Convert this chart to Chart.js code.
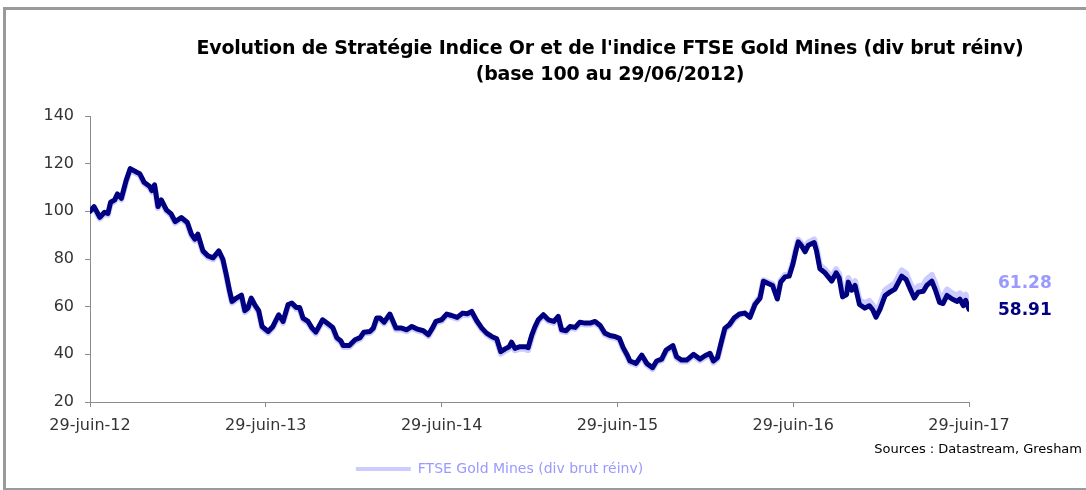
<!DOCTYPE html>
<html>
<head>
  <meta charset="utf-8">
  <title>Evolution de Stratégie Indice Or et de l'indice FTSE Gold Mines</title>
  <script src="https://cdn.jsdelivr.net/npm/chart.js"></script>
  <style>
    body { margin: 0; background: #fff; font-family: "DejaVu Sans", sans-serif; }
    #wrap { position: relative; width: 1086px; height: 490px; overflow: hidden; }
    #frame { position: absolute; left: 3px; top: 7px; width: 1090px; height: 478px;
             border: 3px solid #9a9a9a; border-right: none; }
    #chart { position: absolute; left: 0; top: 0; }
    #title { position: absolute; left: 160px; width: 900px; top: 34px; text-align: center;
             font-weight: bold; font-size: 19px; line-height: 26px; color: #000; letter-spacing: -0.2px; }
    #sources { position: absolute; right: 4px; top: 441px; font-size: 13px; color: #000; }
    .endval { position: absolute; left: 998px; font-weight: bold; font-size: 17px; }
  </style>
</head>
<body>
<div id="wrap">
  <div id="frame"></div>
  <canvas id="chart" width="1086" height="490"></canvas>
  <div id="title">Evolution de Stratégie Indice Or et de l'indice FTSE Gold Mines (div brut réinv)<br>(base 100 au 29/06/2012)</div>
  <div id="sources">Sources : Datastream, Gresham</div>
  <div id="lastFtse" class="endval" style="top:272px;color:#9999ff"></div>
  <div id="lastStrat" class="endval" style="top:299px;color:#000080"></div>
</div>
<script>
  // semaines depuis le 29/06/2012
  const weeks = [0,1.2,2.9,4.3,5.3,6.1,7.3,8.1,9.3,10.7,11.9,13.7,14.7,16,17.7,18.3,19.1,20.1,21.1,22.6,
    24,25.2,27,28.8,30,31,31.9,33.4,34.9,36.4,38.1,39.3,40.3,41.3,42,43.3,44.8,45.8,46.7,47.7,
    48.7,49.9,50.9,52.7,54.1,55.8,57.1,58.6,59.7,61,62,63,64.5,65.7,
    66.8,68.8,70.5,71.8,73,74.2,74.9,76.7,78.4,79.9,81,82.8,83.8,84.8,85.8,87,88.7,90.5,92.2,93.7,
    95.2,96.6,98.6,100.1,101.4,102.3,104,105.5,107,108.6,110.2,111.6,112.9,114.4,115.9,117.3,118.8,120.3,121.5,122.8,
    124,124.7,125.7,127.2,128.7,129.6,130.7,
    131.6,132.6,134.1,135.6,137.2,138.5,139.5,140.8,142,143.5,144.9,146.4,147.9,149.4,150.9,152.3,153.8,155.3,156.6,157.7,
    158.9,159.7,161.5,163.2,164.7,166.4,167.6,169.1,170.4,172.4,173.5,175,176.5,178.5,180.4,181.9,183.4,184.4,185.6,186.9,
    187.8,189.1,190.5,192.1,193.7,195.2,
    196.7,198.2,199.2,200.6,201.9,203.3,204.3,205.6,206.8,207.9,208.8,209.5,210.5,211.5,212.5,214.2,214.9,215.9,217.4,219.4,
    220.7,221.6,222.6,223.8,224.3,225.3,226.3,227.6,229.2,230.5,231.5,232.5,233.7,235.2,236.6,238.1,240.1,241.4,242.6,243.8,
    245,246.5,247.5,249,250,251.3,252.3,253.5,255,256.5,257.3,258.3,259,260];

  const strategie = [100,102,97.5,99.6,99.1,103.8,104.8,107.3,105.5,113,117.9,116.5,115.8,112.2,110.4,108.7,111.1,102,104.8,100.6,
    98.9,95.7,97.4,95.3,90.4,88.3,90.4,83.4,81.3,80.5,83.4,79.9,73.5,66.5,62.2,63.6,64.8,58.3,59.4,63.6,
    60.9,58.3,51.7,49.6,51.7,56.6,53.8,60.9,61.5,59.7,59.7,55.2,53.8,51,
    49.3,54.5,52.7,51.3,47,45.6,43.7,43.7,46.1,47,49.3,49.6,51,55.2,55.2,53.5,56.9,51,51,50.3,
    51.7,50.7,49.9,48.2,51.3,53.8,54.5,56.9,56.3,55.5,57.3,57,58,54.1,51,48.9,47.5,46.5,41.1,42.3,
    43.2,45.1,42.5,43.2,43.2,42.8,48.2,
    51.5,54.5,56.6,54.5,53.8,55.9,50.3,49.9,51.7,51.3,53.5,53.1,53.1,53.8,52.1,48.9,47.9,47.5,46.7,42.8,
    39.7,37.2,36.2,39.7,36.2,34.4,37.2,38,41.8,43.7,39,37.6,37.6,40,38,39.4,40.4,37.2,38.6,46.1,
    51,52.4,55.2,56.9,57.3,55.5,
    60.9,63.6,70.7,69.7,68.9,63.2,70.3,72.5,72.8,77.8,83.4,87.2,85.5,83,85.8,86.9,83.4,75.9,74.2,70.7,
    74.2,72.1,64.1,65.1,70.3,66.9,68.9,60.9,59.4,60.4,58.7,55.6,59,64.7,66.1,67.4,72.8,71.4,67.4,63.6,
    66.1,66.5,68.9,70.7,67.2,61.8,61.3,64.7,63.2,62.2,63.2,60.4,62.7,58.91];

  const ftse = [100,101.4,96.9,99,98.5,103.2,104.2,106.7,104.9,112.4,117.3,115.9,115.2,111.6,109.8,108.1,110.5,101.4,104.2,100,
    98.3,95.1,96.8,94.7,89.8,87.7,89.8,82.8,80.7,79.9,82.8,79.3,72.9,65.9,61.6,63,64.2,57.7,58.8,63,
    60.3,57.7,51.1,49,51.1,56,53.2,60.3,60.9,59.1,59.1,54.6,53.2,50.4,
    48.7,53.9,52.1,50.7,46.4,45,43.1,43.1,45.5,46.4,48.7,49,50.4,54.6,54.6,52.9,56.3,50.4,50.4,49.7,
    51.1,50.1,49.3,47.6,50.7,53.2,53.9,56.3,55.7,54.9,56.7,56.4,57.4,53.5,50.4,48.3,46.9,45.9,40.3,41.5,
    42.4,44.3,41.7,42.4,42.2,41.8,47.2,
    50.7,53.8,56,53.9,53.2,55.3,49.7,49.3,51.1,50.7,52.9,52.5,52.5,53.2,51.5,48.3,47.3,46.9,46.1,42.2,
    39.1,36.6,35.6,39.1,35.6,33.8,36.6,37.4,41.2,43.1,38.4,37,37,39.4,37.4,38.8,39.8,36.6,38,45.5,
    50.4,51.8,54.6,56.5,57.3,55.7,
    61.4,64.2,71.1,70.2,69.5,63.9,71,73.3,73.6,78.6,84.2,88,86.5,84.2,87,88.2,84.8,77.3,75.6,72.2,
    75.7,73.7,65.7,66.8,72,68.7,70.7,62.8,61.4,62.4,60.7,57.7,61.1,66.9,68.4,69.8,75.2,73.9,69.9,66.1,
    68.6,69,71.5,73.3,69.8,64.3,63.8,67.2,65.7,64.6,65.6,62.8,65.1,61.28];

  const yearLabels = ['29-juin-12', '29-juin-13', '29-juin-14', '29-juin-15', '29-juin-16', '29-juin-17'];
  const yTicks = [20, 40, 60, 80, 100, 120, 140];

  const navy = '#000080';
  const lavender = '#ccccff';
  const axisColor = '#8c8c8c';
  const tickFont = { family: 'DejaVu Sans', size: 16 };

  document.getElementById('lastFtse').textContent = ftse[ftse.length - 1].toFixed(2);
  document.getElementById('lastStrat').textContent = strategie[strategie.length - 1].toFixed(2);

  const toPoints = arr => arr.map((v, i) => ({ x: weeks[i], y: v }));

  new Chart(document.getElementById('chart'), {
    type: 'line',
    data: {
      datasets: [{
        label: 'Stratégie Indice Or',
        data: toPoints(strategie),
        borderColor: navy,
        backgroundColor: navy,
        borderWidth: 5,
        borderJoinStyle: 'round',
        borderCapStyle: 'round',
        pointRadius: 0,
        tension: 0
      }, {
        label: 'FTSE Gold Mines (div brut réinv)',
        data: toPoints(ftse),
        borderColor: lavender,
        backgroundColor: lavender,
        borderWidth: 6,
        borderJoinStyle: 'round',
        pointRadius: 0,
        tension: 0
      }]
    },
    options: {
      responsive: false,
      animation: false,
      layout: { padding: { left: 30, right: 117, top: 116, bottom: 4 } },
      scales: {
        x: {
          type: 'linear',
          min: 0,
          max: 260,
          afterFit: s => { s.height = 50; },
          afterBuildTicks: s => { s.ticks = yearLabels.map((_, i) => ({ value: i * 52 })); },
          ticks: {
            color: '#333',
            font: tickFont,
            padding: 9,
            maxRotation: 0,
            callback: v => yearLabels[Math.round(v / 52)]
          },
          grid: { drawOnChartArea: false, tickLength: 5, color: axisColor },
          border: { color: axisColor }
        },
        y: {
          min: 20,
          max: 140,
          afterFit: s => { s.width = 60; },
          afterBuildTicks: s => { s.ticks = yTicks.map(v => ({ value: v })); },
          ticks: { color: '#333', font: tickFont, padding: 11 },
          grid: { drawOnChartArea: false, tickLength: 5, color: axisColor },
          border: { color: axisColor }
        }
      },
      plugins: {
        tooltip: { enabled: false },
        legend: {
          position: 'bottom',
          labels: {
            boxWidth: 55,
            boxHeight: 4,
            padding: 10,
            color: '#9999ff',
            font: { family: 'DejaVu Sans', size: 14 },
            filter: item => item.datasetIndex === 1,
            generateLabels: chart => {
              const items = Chart.defaults.plugins.legend.labels.generateLabels(chart);
              items.forEach(it => { it.lineWidth = 0; it.fillStyle = lavender; });
              return items;
            }
          }
        }
      }
    }
  });
</script>
</body>
</html>
